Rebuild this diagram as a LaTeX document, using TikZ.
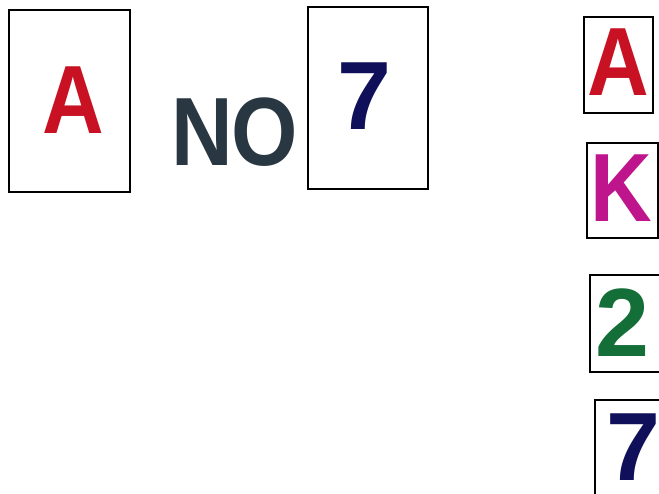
\documentclass[tikz,border=0pt]{standalone}
\usepackage{xcolor}
\usepackage{fontspec}
\setmainfont{Liberation Sans}
\usepackage{tikz}
\definecolor{cardred}{RGB}{200,18,35}
\definecolor{cardpink}{RGB}{190,20,140}
\definecolor{cardgreen}{RGB}{20,110,55}
\definecolor{cardnavy}{RGB}{15,15,90}
\definecolor{nogray}{RGB}{40,55,65}
\tikzstyle{card}=[rectangle,draw=black,line width=2pt,fill=white,inner sep=0pt]
\tikzstyle{glyph}=[inner sep=0pt,font=\fontsize{97}{97}\selectfont\bfseries]
\tikzstyle{letter}=[glyph,xscale=0.88,transform shape]

\begin{document}
\begin{tikzpicture}[x=1pt,y=-1pt]
      \useasboundingbox (0,0) rectangle (659,493);
      % the two cards on the left
      \node[card,minimum width=121pt,minimum height=182pt] (cardA) at (69.5,101) {};
      \node[card,minimum width=120pt,minimum height=182pt] (cardS) at (368,98) {};
      \node[letter,text=cardred] (gA) at (73,100.5) {A};
      \node[glyph,text=cardnavy] (gS) at (364,96.5) {7};
      \node[letter,text=nogray] (no) at (234.5,132) {N\kern-2ptO};

      % the column on the right
      \node[card,minimum width=69pt,minimum height=96pt] (colA) at (618.5,65) {};
      \node[card,minimum width=71pt,minimum height=95pt] (colK) at (622.5,190.5) {};
      \node[card,minimum width=75pt,minimum height=97pt] (col2) at (627.5,323.5) {};
      \node[card,minimum width=70pt,minimum height=100pt] (col7) at (630,450) {};
      \node[letter,text=cardred] (hA) at (618.5,62) {A};
      \node[letter,text=cardpink] (hK) at (621,188) {K};
      \node[glyph,text=cardgreen] (h2) at (622,323) {2};
      \node[glyph,text=cardnavy] (h7) at (633.5,447.5) {7};
    \end{tikzpicture}
\end{document}
